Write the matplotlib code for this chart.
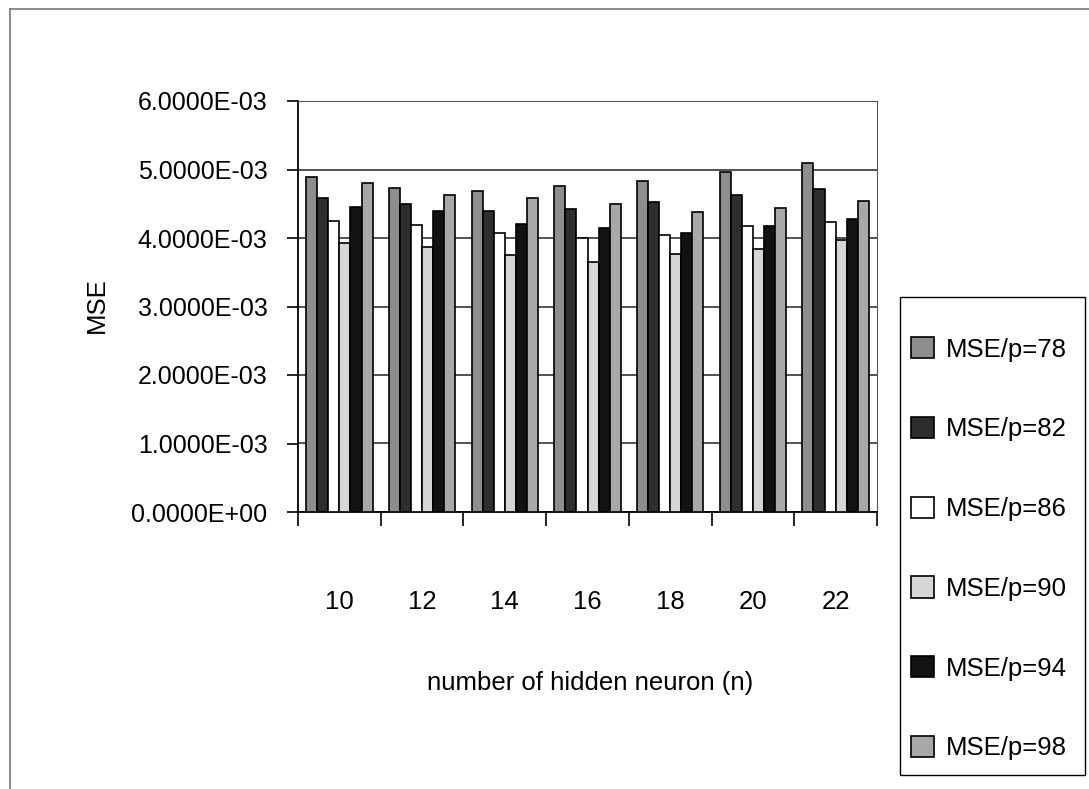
import numpy as np
import matplotlib.pyplot as plt
from matplotlib.lines import Line2D
from matplotlib.patches import Rectangle
from matplotlib.ticker import FormatStrFormatter

plt.rcParams['font.family'] = ['Liberation Sans', 'DejaVu Sans']

neurons = ['10', '12', '14', '16', '18', '20', '22']
series = ['MSE/p=78', 'MSE/p=82', 'MSE/p=86', 'MSE/p=90', 'MSE/p=94', 'MSE/p=98']
mse_78 = [4.89e-3, 4.73e-3, 4.69e-3, 4.76e-3, 4.83e-3, 4.97e-3, 5.10e-3]
mse_82 = [4.59e-3, 4.50e-3, 4.39e-3, 4.42e-3, 4.52e-3, 4.63e-3, 4.72e-3]
mse_86 = [4.25e-3, 4.19e-3, 4.08e-3, 4.00e-3, 4.04e-3, 4.17e-3, 4.23e-3]
mse_90 = [3.93e-3, 3.87e-3, 3.75e-3, 3.65e-3, 3.76e-3, 3.84e-3, 3.97e-3]
mse_94 = [4.45e-3, 4.39e-3, 4.21e-3, 4.15e-3, 4.08e-3, 4.18e-3, 4.28e-3]
mse_98 = [4.80e-3, 4.63e-3, 4.59e-3, 4.49e-3, 4.38e-3, 4.44e-3, 4.54e-3]
colors = ['#8e8e8e', '#2e2e2e', '#ffffff', '#d6d6d6', '#121212', '#a8a8a8']

W, H = 1089, 789
fig = plt.figure(figsize=(W / 100, H / 100), dpi=100)
ax = fig.add_axes([298/W, 1-512/H, (877-298)/W, (512-101)/H])

data = [mse_78, mse_82, mse_86, mse_90, mse_94, mse_98]
x = np.arange(len(neurons)) + 0.5
w = 0.134
for i, vals in enumerate(data):
    ax.bar(x + (i - 2.5) * w, vals, w, color=colors[i], edgecolor='black',
           linewidth=1.2, label=series[i], zorder=3)

ax.set_xlim(0, len(neurons))
ax.set_ylim(0, 6e-3)
ax.set_yticks(np.arange(0, 6.5e-3, 1e-3))
ax.yaxis.set_major_formatter(FormatStrFormatter('%.4E'))
ax.grid(axis='y', color='#444444', linewidth=1.3, zorder=0)
ax.tick_params(axis='y', length=8, width=1.2, pad=14, labelsize=18)

# group boundary ticks, labels sit at group centres
ax.set_xticks(np.arange(0, len(neurons) + 1))
ax.set_xticklabels([])
ax.tick_params(axis='x', which='major', length=10, width=1.2)
ax.set_xticks(x, minor=True)
ax.set_xticklabels(neurons, minor=True)
ax.tick_params(axis='x', which='minor', length=0, pad=56, labelsize=18.5)

for s in ['left', 'bottom']:
    ax.spines[s].set_linewidth(1.3)
ax.spines['top'].set_color('#555555')
ax.spines['right'].set_color('#555555')

fig.text(590/W, 1-683/H, 'number of hidden neuron (n)', ha='center', va='center', fontsize=18.5)
fig.text(97/W, 1-305/H, 'MSE', ha='center', va='center', rotation=90, fontsize=18.5)

# legend box
fig.add_artist(Rectangle((900/W, 1-775/H), (1085-900)/W, (775-297)/H, transform=fig.transFigure,
                         facecolor='none', edgecolor='black', linewidth=1.0))
fig.legend(loc='upper left', bbox_to_anchor=(911/W, 1-337/H), borderaxespad=0, borderpad=0,
           fontsize=18.5, labelspacing=2.15, handlelength=0.9, handleheight=0.9,
           handletextpad=0.45, frameon=False)

# outer chart frame
fig.add_artist(Line2D([10/W, 10/W], [0.0, 1-9/H], color='#777777', linewidth=1.2))
fig.add_artist(Line2D([10/W, 1.0], [1-9/H, 1-9/H], color='#777777', linewidth=1.2))

fig.savefig('out.png', dpi=100)
